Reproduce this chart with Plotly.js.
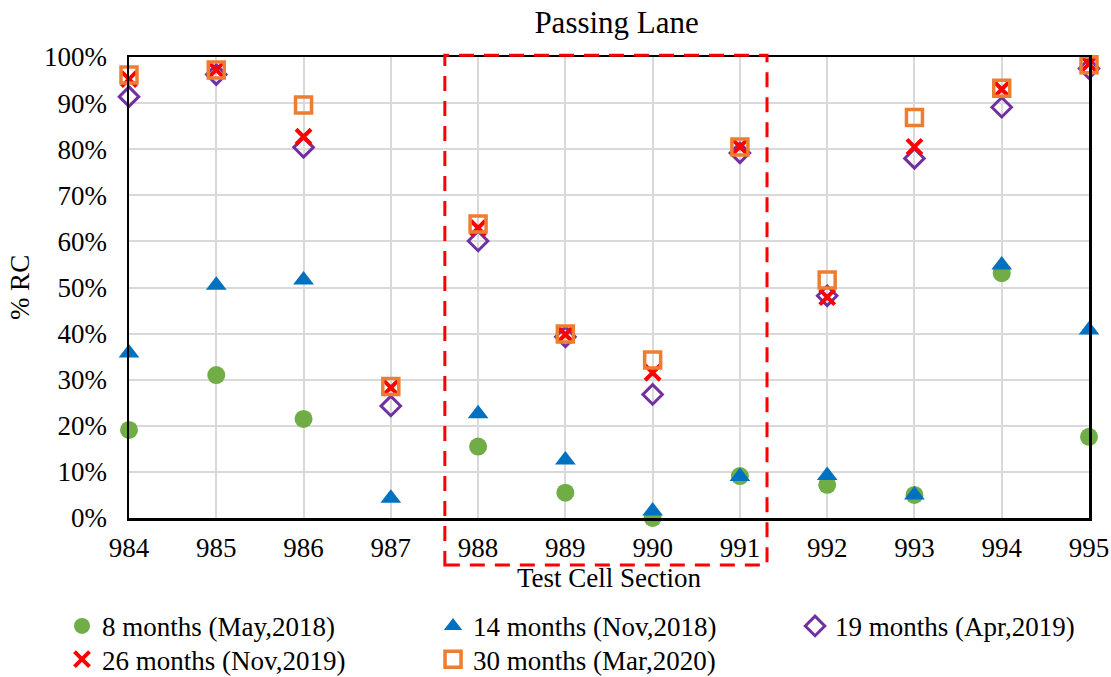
<!DOCTYPE html>
<html>
<head>
<meta charset="utf-8">
<script src="https://cdn.plot.ly/plotly-3.0.1.min.js"></script>
<style>html,body{margin:0;padding:0;background:#fff;}#chart{width:1111px;height:677px;}</style>
</head>
<body>
<div id="chart"></div>
<script>
const sections = [984, 985, 986, 987, 988, 989, 990, 991, 992, 993, 994, 995];
const seriesNames = ["8 months (May,2018)", "14 months (Nov,2018)", "19 months (Apr,2019)", "26 months (Nov,2019)", "30 months (Mar,2020)"];
const rc8 =  [0.191, 0.310, 0.215, null, 0.155, 0.055, 0.000, 0.091, 0.072, 0.050, 0.531, 0.176];
const rc14 = [0.358, 0.505, 0.516, 0.043, 0.226, 0.126, 0.015, 0.090, 0.092, 0.050, 0.549, 0.408];
const rc19 = [0.914, 0.962, 0.804, 0.243, 0.601, 0.393, 0.268, 0.792, 0.482, 0.780, 0.891, 0.975];
const rc26 = [0.952, 0.972, 0.827, 0.283, 0.629, 0.398, 0.315, 0.805, 0.479, 0.805, 0.930, 0.985];
const rc30 = [0.961, 0.972, 0.896, 0.285, 0.638, 0.399, 0.343, 0.805, 0.516, 0.869, 0.932, 0.983];

const font = "'Liberation Serif', 'Times New Roman', serif";

const traces = [
  {x: sections, y: rc8, name: seriesNames[0], type: 'scatter', mode: 'markers', cliponaxis: false, legend: 'legend',
   marker: {symbol: 'circle', size: 18, color: '#70ad47'}},
  {x: sections, y: rc14, name: seriesNames[1], type: 'scatter', mode: 'markers', cliponaxis: false, legend: 'legend2',
   marker: {symbol: 'triangle-up', size: 18, color: '#0070c0'}},
  {x: sections, y: rc19, name: seriesNames[2], type: 'scatter', mode: 'markers', cliponaxis: false, legend: 'legend3',
   marker: {symbol: 'diamond-open', size: 15, color: '#7030a0', line: {width: 3, color: '#7030a0'}}},
  {x: sections, y: rc26, name: seriesNames[3], type: 'scatter', mode: 'markers', cliponaxis: false, legend: 'legend4',
   marker: {symbol: 'x-thin-open', size: 15, color: '#ff0000', line: {width: 4, color: '#ff0000'}}},
  {x: sections, y: rc30, name: seriesNames[4], type: 'scatter', mode: 'markers', cliponaxis: false, legend: 'legend5',
   marker: {symbol: 'square-open', size: 16, color: '#ed7d31', line: {width: 3.5, color: '#ed7d31'}}}
];

function leg(x, y) {
  return {orientation: 'h', x: x, xanchor: 'left', y: y, yanchor: 'top',
          font: {family: font, size: 27, color: '#000'}, bgcolor: 'rgba(0,0,0,0)'};
}

const layout = {
  width: 1111, height: 677,
  margin: {l: 129, r: 22, t: 57, b: 159, autoexpand: false},
  paper_bgcolor: '#fff', plot_bgcolor: '#fff',
  font: {family: font, color: '#000', size: 27},
  title: {text: 'Passing Lane', font: {family: font, size: 31, color: '#000'}, x: 0.555, xanchor: 'center', y: 0.967, yanchor: 'middle'},
  xaxis: {
    range: [984, 995], tickvals: sections, ticktext: sections.map(String),
    showgrid: true, gridcolor: '#d9d9d9', gridwidth: 2,
    showline: true, linecolor: '#000', linewidth: 2.5, mirror: true,
    zeroline: false, ticks: '', ticklen: 0, tickfont: {family: font, size: 27},
    ticklabelstandoff: 4, automargin: false,
    title: {text: 'Test Cell Section', font: {family: font, size: 27}, standoff: 2}
  },
  yaxis: {
    range: [0, 1], dtick: 0.1, tickformat: '.0%',
    showgrid: true, gridcolor: '#d9d9d9', gridwidth: 2,
    showline: true, linecolor: '#000', linewidth: 2.5, mirror: true,
    zeroline: false, ticks: '', tickfont: {family: font, size: 27},
    ticklabelstandoff: 14, automargin: false,
    title: {text: '% RC', font: {family: font, size: 27}, standoff: 7}
  },
  showlegend: true,
  legend: leg(-0.0698, -0.182),
  legend2: leg(0.3167, -0.182),
  legend3: leg(0.6938, -0.182),
  legend4: leg(-0.0698, -0.254),
  legend5: leg(0.3167, -0.254),
  shapes: [
    {type: 'rect', xref: 'paper', yref: 'paper', x0: 0.329, x1: 0.6646, y0: -0.102, y1: 1.004,
     line: {color: '#ff0000', width: 3, dash: '15px,10px'}, fillcolor: 'rgba(0,0,0,0)', layer: 'above'}
  ]
};

Plotly.newPlot('chart', traces, layout, {displayModeBar: false, staticPlot: true});
</script>
</body>
</html>
